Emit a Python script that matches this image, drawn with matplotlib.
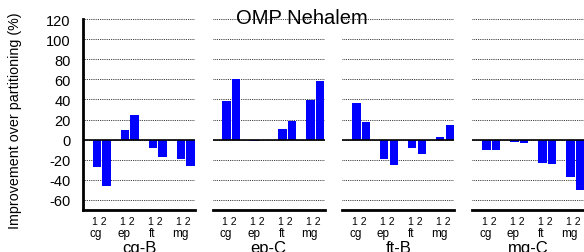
import matplotlib
matplotlib.use("Agg")
import matplotlib.pyplot as plt
from matplotlib import font_manager
import numpy as np

panels = ["cg-B", "ep-C", "ft-B", "mg-C"]
groups = ["cg", "ep", "ft", "mg"]
bar_pair_label = "1 2"
# values per panel: [(bar 1, bar 2) for each group]
vals_cgB = [(-27, -46), (10, 25), (-8, -17), (-19, -26)]
vals_epC = [(38, 60), (-1.5, -0.5), (11, 19), (39, 58)]
vals_ftB = [(36, 18), (-19, -25), (-8, -14), (3, 15)]
vals_mgC = [(-10, -10), (-2, -3), (-23, -24), (-37, -50)]
all_vals = [vals_cgB, vals_epC, vals_ftB, vals_mgC]
yticks = [-60, -40, -20, 0, 20, 40, 60, 80, 100, 120]
title = "OMP Nehalem"
ylabel = "Improvement over partitioning (%)"

names = {f.name for f in font_manager.fontManager.ttflist}
base = "Liberation Sans" if "Liberation Sans" in names else "DejaVu Sans"
narrow = "Liberation Sans Narrow" if "Liberation Sans Narrow" in names else base
plt.rcParams["font.family"] = [base, "DejaVu Sans"]

W, H = 584, 253
fig = plt.figure(figsize=(W / 100, H / 100), dpi=100)
renderer = fig.canvas.get_renderer()


def fit(txt, target_px, vertical=False):
    bb = txt.get_window_extent(renderer=renderer)
    cur = bb.height if vertical else bb.width
    txt.set_fontsize(txt.get_fontsize() * target_px / cur)


lefts = [83, 212.5, 342.3, 472.3]
pw = 112
top_px, bot_px = 20, 211
ax_h = bot_px - top_px
off = 0.17
bw = 0.30
for i, (ax_left, vals, pname) in enumerate(zip(lefts, all_vals, panels)):
    ax = fig.add_axes([ax_left / W, (H - bot_px) / H, pw / W, ax_h / H])
    ax.set_xlim(-0.67, 3.33)
    ax.set_ylim(-70, 120)
    x = np.arange(len(groups))
    v1 = [v[0] for v in vals]
    v2 = [v[1] for v in vals]
    ax.bar(x - off, v1, width=bw, color="#0000ff", zorder=3)
    ax.bar(x + off, v2, width=bw, color="#0000ff", zorder=3)
    ax.set_yticks(yticks)
    ax.yaxis.grid(True, linestyle=(0, (1, 1.2)), color="black", linewidth=0.6, zorder=0)
    ax.axhline(0, color="black", linewidth=1.2, zorder=4)
    for s in ["top", "right"]:
        ax.spines[s].set_visible(False)
    ax.spines["bottom"].set_linewidth(2)
    ax.tick_params(axis="both", length=0)
    ax.set_xticks(x - 0.08)
    ax.set_xticklabels([bar_pair_label] * len(x), fontsize=7.5)
    ax.tick_params(axis="x", pad=4)
    tr = ax.get_xaxis_transform()
    for g, name in zip(x, groups):
        ax.text(g - 0.2, -23.5 / ax_h, name, transform=tr, ha="center", va="center", fontsize=8.5)
    ax.text(0.5, -38 / ax_h, pname, transform=ax.transAxes, ha="center", va="center", fontsize=12)
    if i == 0:
        ax.spines["left"].set_linewidth(2)
        ax.tick_params(axis="y", labelsize=10.5, pad=9)
        ax.set_yticklabels([str(t) for t in yticks])
    else:
        ax.spines["left"].set_visible(False)
        ax.set_yticklabels([])

yl = fig.text(15 / W, 1 - 121 / H, ylabel, rotation=90, ha="center", va="center",
              fontsize=12, family=[narrow, "DejaVu Sans"])
fit(yl, 216, vertical=True)

tt = fig.text(302 / W, 1 - 19 / H, title, ha="center", va="center", fontsize=12)
fit(tt, 132)

fig.savefig("out.png", dpi=100)
